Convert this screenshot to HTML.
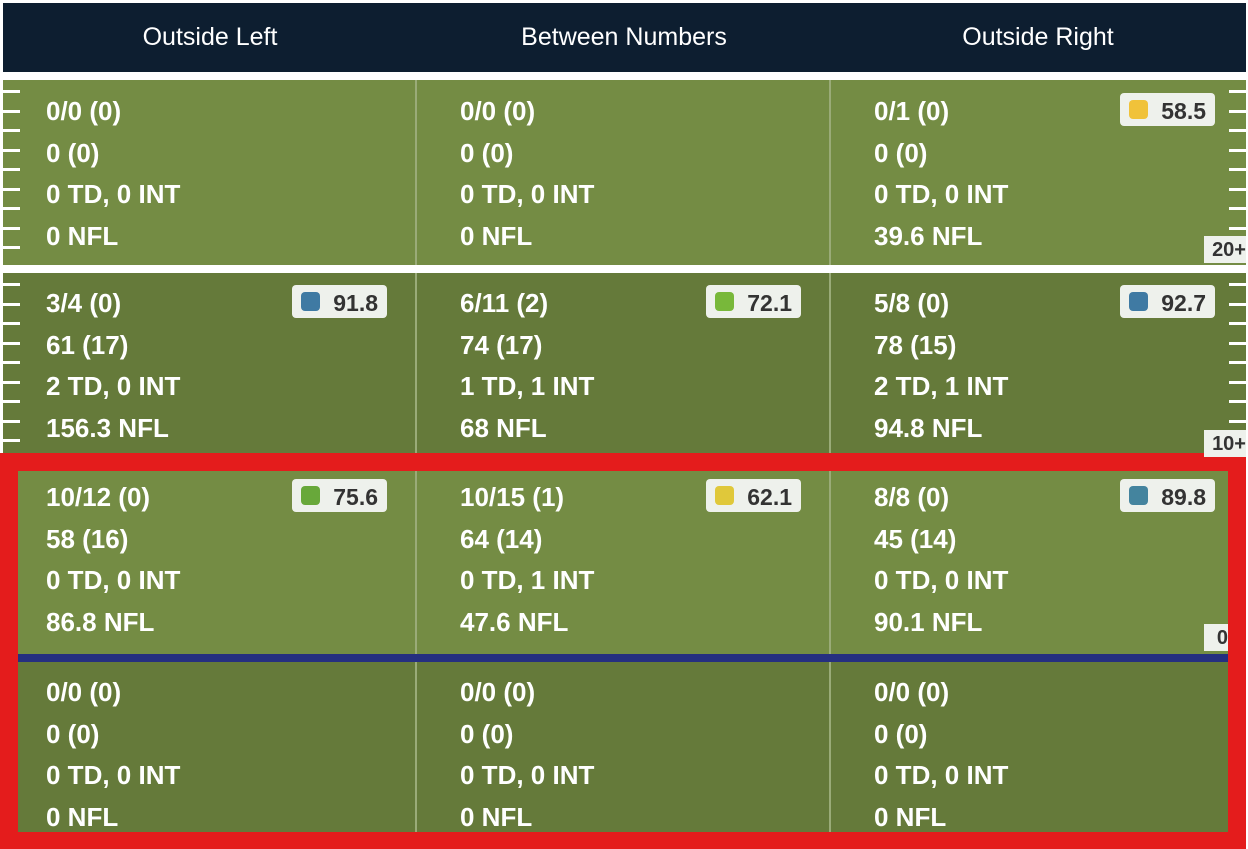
<!DOCTYPE html><html><head><style>
body{margin:0;width:1248px;height:849px;background:#fff;position:relative;overflow:hidden;font-family:"Liberation Sans",Arial,sans-serif}
.a{position:absolute}
.hd{background:#0d1e30;left:3px;top:3px;width:1243px;height:69px}
.ht{color:#fff;font-size:25px;top:23px;width:414px;text-align:center}
.lg{background:#748c44}.dk{background:#657a3a}
.t{color:#fff;font-weight:bold;font-size:26px;line-height:26px}
.b{background:#eef1ec;border-radius:4px;height:33px;width:95px;font-size:23px;color:#333;font-weight:bold}
.b i{position:absolute;left:9px;top:7px;width:19px;height:19px;border-radius:4px}
.b span{position:absolute;right:9px;top:5px}
.vd{width:2px;background:#9aab78}
.tk{height:3px;width:17px;background:#fff}
.yl{background:#eef1ec;color:#333;font-weight:bold;font-size:20px;width:42px;height:27px;line-height:29px;text-align:right}
</style></head><body>
<div class="a hd"></div>
<div class="a ht" style="left:3px">Outside Left</div>
<div class="a ht" style="left:417px">Between Numbers</div>
<div class="a ht" style="left:831px">Outside Right</div>
<div class="a lg" style="left:3px;top:80px;width:1243px;height:185px"></div>
<div class="a dk" style="left:3px;top:273px;width:1243px;height:180px"></div>
<div class="a" style="left:0;top:453px;width:1246px;height:396px;background:#e41c1c"></div>
<div class="a lg" style="left:18px;top:471px;width:1210px;height:183px"></div>
<div class="a" style="left:18px;top:654px;width:1210px;height:8px;background:#252f80"></div>
<div class="a dk" style="left:18px;top:662px;width:1210px;height:170px"></div>
<div class="a vd" style="left:415px;top:80px;height:185px"></div><div class="a vd" style="left:829px;top:80px;height:185px"></div>
<div class="a vd" style="left:415px;top:273px;height:180px"></div><div class="a vd" style="left:829px;top:273px;height:180px"></div>
<div class="a vd" style="left:415px;top:471px;height:183px"></div><div class="a vd" style="left:829px;top:471px;height:183px"></div>
<div class="a vd" style="left:415px;top:662px;height:170px"></div><div class="a vd" style="left:829px;top:662px;height:170px"></div>
<div id="tk"></div>
<div class="a yl" style="left:1204px;top:236px">20+</div>
<div class="a yl" style="left:1204px;top:430px">10+</div>
<div class="a yl" style="left:1204px;top:624px;width:24px">0</div>
<script>
var h='';
[[80,265],[273,453]].forEach(function(r){for(var y=r[0]+10;y<r[1]-5;y+=19.5){h+='<div class="a tk" style="left:3px;top:'+Math.round(y)+'px"></div>';h+='<div class="a tk" style="left:1229px;top:'+Math.round(y)+'px"></div>';}});
document.getElementById('tk').innerHTML=h;
</script>
<div id="c"></div>
<script>
var d=[
[["0/0 (0)","0 (0)","0 TD, 0 INT","0 NFL"],["0/0 (0)","0 (0)","0 TD, 0 INT","0 NFL"],["0/1 (0)","0 (0)","0 TD, 0 INT","39.6 NFL"]],
[["3/4 (0)","61 (17)","2 TD, 0 INT","156.3 NFL"],["6/11 (2)","74 (17)","1 TD, 1 INT","68 NFL"],["5/8 (0)","78 (15)","2 TD, 1 INT","94.8 NFL"]],
[["10/12 (0)","58 (16)","0 TD, 0 INT","86.8 NFL"],["10/15 (1)","64 (14)","0 TD, 1 INT","47.6 NFL"],["8/8 (0)","45 (14)","0 TD, 0 INT","90.1 NFL"]],
[["0/0 (0)","0 (0)","0 TD, 0 INT","0 NFL"],["0/0 (0)","0 (0)","0 TD, 0 INT","0 NFL"],["0/0 (0)","0 (0)","0 TD, 0 INT","0 NFL"]]];
var ys=[98,290,484,679],xs=[46,460,874];
var bd={"0,2":["#f0c23a","58.5"],"1,0":["#3f7aa3","91.8"],"1,1":["#78b83a","72.1"],"1,2":["#3f7aa3","92.7"],"2,0":["#68a83a","75.6"],"2,1":["#e0c83a","62.1"],"2,2":["#44849e","89.8"]};
var h='';
d.forEach(function(r,i){r.forEach(function(c,j){c.forEach(function(s,k){h+='<div class="a t" style="left:'+xs[j]+'px;top:'+(ys[i]+k*41.5)+'px">'+s+'</div>';});
var b=bd[i+','+j];if(b)h+='<div class="a b" style="left:'+(xs[j]+246)+'px;top:'+(ys[i]-5)+'px"><i style="background:'+b[0]+'"></i><span>'+b[1]+'</span></div>';});});
document.getElementById('c').innerHTML=h;
</script>
</body></html>
